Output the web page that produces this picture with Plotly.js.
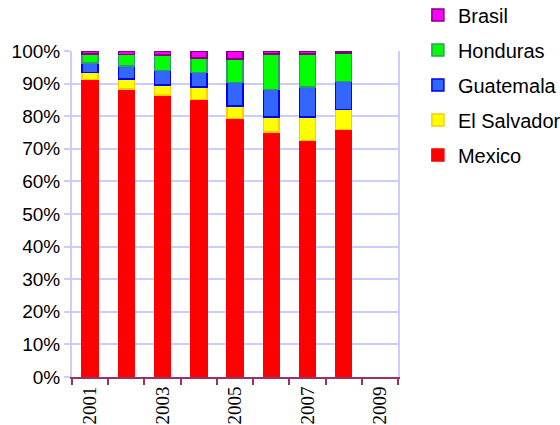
<!DOCTYPE html>
<html>
<head>
<meta charset="utf-8">
<script src="https://cdn.plot.ly/plotly-3.0.1.min.js"></script>
<style>html,body{margin:0;padding:0;background:#fff;}#chart{width:560px;height:425px;}</style>
</head>
<body>
<div id="chart"></div>
<script>
var years = [2001, 2002, 2003, 2004, 2005, 2006, 2007, 2008];
var mexico     = [91.9, 88.3, 86.5, 85.1, 79.3, 75.1, 72.5, 75.9];
var elSalvador = [2.1, 3.1, 3.1, 3.8, 3.8, 4.7, 7.3, 6.2];
var guatemala  = [3.0, 4.0, 4.4, 4.5, 7.2, 8.4, 9.1, 8.5];
var honduras   = [2.7, 3.5, 4.7, 4.4, 7.3, 10.9, 10.2, 8.8];
var brasil     = [1.0, 1.1, 1.3, 2.2, 2.4, 0.9, 0.9, 0.6];
var xTickVals  = [2001, 2003, 2005, 2007, 2009];
var xTickText  = ['2001', '2003', '2005', '2007', '2009'];
var yTickVals  = [0, 10, 20, 30, 40, 50, 60, 70, 80, 90, 100];
var yTickText  = ['0%', '10%', '20%', '30%', '40%', '50%', '60%', '70%', '80%', '90%', '100%'];

function mk(name, y, fill, edge, rank) {
  return {type: 'bar', name: name, x: years, y: y, legendgroup: name, legendrank: rank,
    marker: {color: fill, line: {color: edge, width: 1.5}}};
}
var data = [
  mk('Mexico', mexico, '#ff0000', '#ff0000', 5),
  mk('El Salvador', elSalvador, '#ffff00', '#ffcc00', 4),
  mk('Guatemala', guatemala, '#3366ff', '#0000ff', 3),
  mk('Honduras', honduras, '#00ff00', '#339966', 2),
  mk('Brasil', brasil, '#ff00ff', '#800080', 1)
];
var layout = {
  width: 560, height: 425,
  margin: {l: 72, r: 162, t: 51, b: 48, autoexpand: false},
  paper_bgcolor: '#ffffff', plot_bgcolor: '#ffffff',
  barmode: 'stack', barnorm: 'percent', bargap: 0.56,
  font: {family: "'Liberation Sans', Arial, sans-serif", color: '#000'},
  xaxis: {type: 'linear', range: [2000.5, 2009.5], tickmode: 'array',
    tickvals: xTickVals, ticktext: xTickText, ticks: '', tickangle: -90,
    tickfont: {family: "'Liberation Serif', serif", size: 19},
    showgrid: false, zeroline: false, showline: true, linecolor: '#993366', linewidth: 2,
    minor: {ticks: 'outside', tick0: 2000.5, dtick: 1, ticklen: 6, tickwidth: 2, tickcolor: '#993366', showgrid: false}},
  yaxis: {range: [0, 100], tickmode: 'array', tickvals: yTickVals, ticktext: yTickText,
    tickfont: {size: 19}, ticks: 'outside', ticklen: 6, tickcolor: '#ccccff', tickwidth: 2,
    showline: true, linecolor: '#ccccff', linewidth: 2, mirror: true,
    showgrid: true, gridcolor: '#ccccff', gridwidth: 2, zeroline: false},
  legend: {x: 1.061, xanchor: 'left', y: 1.17, yanchor: 'top',
    traceorder: 'grouped', tracegroupgap: 6,
    font: {size: 20}, bgcolor: 'rgba(0,0,0,0)'},
  showlegend: true
};
Plotly.newPlot('chart', data, layout, {displayModeBar: false, staticPlot: true});
</script>
</body>
</html>
